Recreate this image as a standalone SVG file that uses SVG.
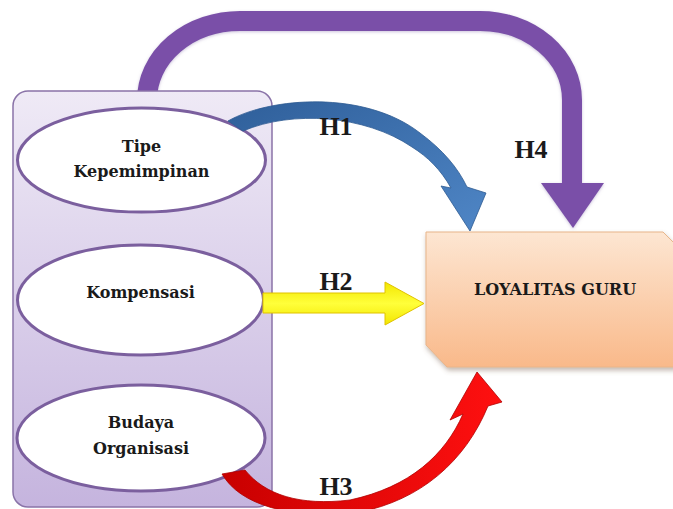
<svg xmlns="http://www.w3.org/2000/svg" width="673" height="509" viewBox="0 0 673 509">
  <style>
    .lbl { font-family: "DejaVu Serif", "Liberation Serif", serif; font-weight: bold; fill: #1a1a1a; text-anchor: middle; }
    .node-text { font-size: 16px; }
    .h { font-family: "Liberation Serif", "DejaVu Serif", serif; font-size: 26px; }
    .ell { fill: #ffffff; stroke: #7b5f9e; stroke-width: 3; }
  </style>
  <defs>
    <linearGradient id="gContainer" x1="0" y1="0" x2="0" y2="1">
      <stop offset="0" stop-color="#efeaf6"/>
      <stop offset="1" stop-color="#c5b4de"/>
    </linearGradient>
    <linearGradient id="gBox" x1="0" y1="0" x2="0" y2="1">
      <stop offset="0" stop-color="#fde6d2"/>
      <stop offset="1" stop-color="#f9b98a"/>
    </linearGradient>
    <linearGradient id="gBlue" x1="0" y1="0" x2="1" y2="1">
      <stop offset="0" stop-color="#2f5f9a"/>
      <stop offset="1" stop-color="#4f86c6"/>
    </linearGradient>
    <linearGradient id="gYellow" x1="0" y1="0" x2="0" y2="1">
      <stop offset="0" stop-color="#f2e600"/>
      <stop offset="0.5" stop-color="#ffff3a"/>
      <stop offset="1" stop-color="#f2e600"/>
    </linearGradient>
    <linearGradient id="gRed" x1="0" y1="0" x2="1" y2="0">
      <stop offset="0" stop-color="#c80000"/>
      <stop offset="1" stop-color="#ff1010"/>
    </linearGradient>
    <filter id="shadow" x="-10%" y="-10%" width="130%" height="140%">
      <feDropShadow dx="1" dy="3" stdDeviation="2.5" flood-color="#7a6050" flood-opacity="0.45"/>
    </filter>
    <filter id="soft" x="-10%" y="-10%" width="120%" height="130%">
      <feDropShadow dx="0" dy="1" stdDeviation="1.5" flood-color="#9a86b8" flood-opacity="0.5"/>
    </filter>
  </defs>

  <rect width="673" height="509" fill="#ffffff"/>

  <!-- H4 connector (behind container) -->
  <g id="connector-h4-back" filter="url(#soft)">
    <path d="M147,115 L147,100 A93,79 0 0 1 240,21 L480,21 A92,79 0 0 1 572,100 L572,186" fill="none" stroke="#7a50a8" stroke-width="20"/>
    <polygon points="541,183 604,183 573,228" fill="#7a50a8"/>
  </g>

  <g id="node-independent-group">
    <rect x="13" y="91" width="259" height="416" rx="15" ry="15" fill="url(#gContainer)" stroke="#8a73a8" stroke-width="1.5"/>
  </g>

  <g id="node-tipe-kepemimpinan">
    <ellipse class="ell" cx="141.5" cy="160" rx="124" ry="52"/>
    <text class="lbl node-text" x="141.5" y="152">Tipe</text>
    <text class="lbl node-text" x="141.5" y="177">Kepemimpinan</text>
  </g>

  <g id="node-kompensasi">
    <ellipse class="ell" cx="140.5" cy="300" rx="123" ry="55"/>
    <text class="lbl node-text" x="140.5" y="298">Kompensasi</text>
  </g>

  <g id="node-budaya-organisasi">
    <ellipse class="ell" cx="141" cy="438" rx="124" ry="53"/>
    <text class="lbl node-text" x="141" y="428">Budaya</text>
    <text class="lbl node-text" x="141" y="454">Organisasi</text>
  </g>

  <g id="node-loyalitas-guru">
    <polygon points="426,232 663,232 676,245 676,367 447,367 426,345" fill="url(#gBox)" stroke="#e8b58a" stroke-width="1" filter="url(#shadow)"/>
    <text class="lbl" x="555" y="295" font-size="16">LOYALITAS GURU</text>
  </g>

  <g id="connectors">
    <!-- H1 blue curved arrow -->
    <path d="M228,121 C270,97 365,90 420,133 C443,150 458,168 467,187 L486,193 L470,231 L441,186 L451,188 C441,170 428,157 412,147 C365,115 292,110 243,131 Z" fill="url(#gBlue)" stroke="#2d5a92" stroke-width="0.8"/>
    <!-- H2 yellow straight arrow -->
    <polygon points="263,293 385,293 385,282 424,303.5 385,325 385,313 263,313" fill="url(#gYellow)" stroke="#e0c200" stroke-width="1"/>
    <!-- H3 red curved arrow -->
    <path d="M222,474 C240,505 290,520 360,512 C420,500 465,462 488,406 L502,402 L477,372 L450,420 L463,414 C445,455 410,487 350,500 C300,506 265,495 245,470 Z" fill="url(#gRed)" stroke="#b00000" stroke-width="0.8"/>
  </g>

  <g id="labels">
    <text class="lbl h" x="336" y="135">H1</text>
    <text class="lbl h" x="336" y="290">H2</text>
    <text class="lbl h" x="336" y="495">H3</text>
    <text class="lbl h" x="531" y="158">H4</text>
  </g>
</svg>
